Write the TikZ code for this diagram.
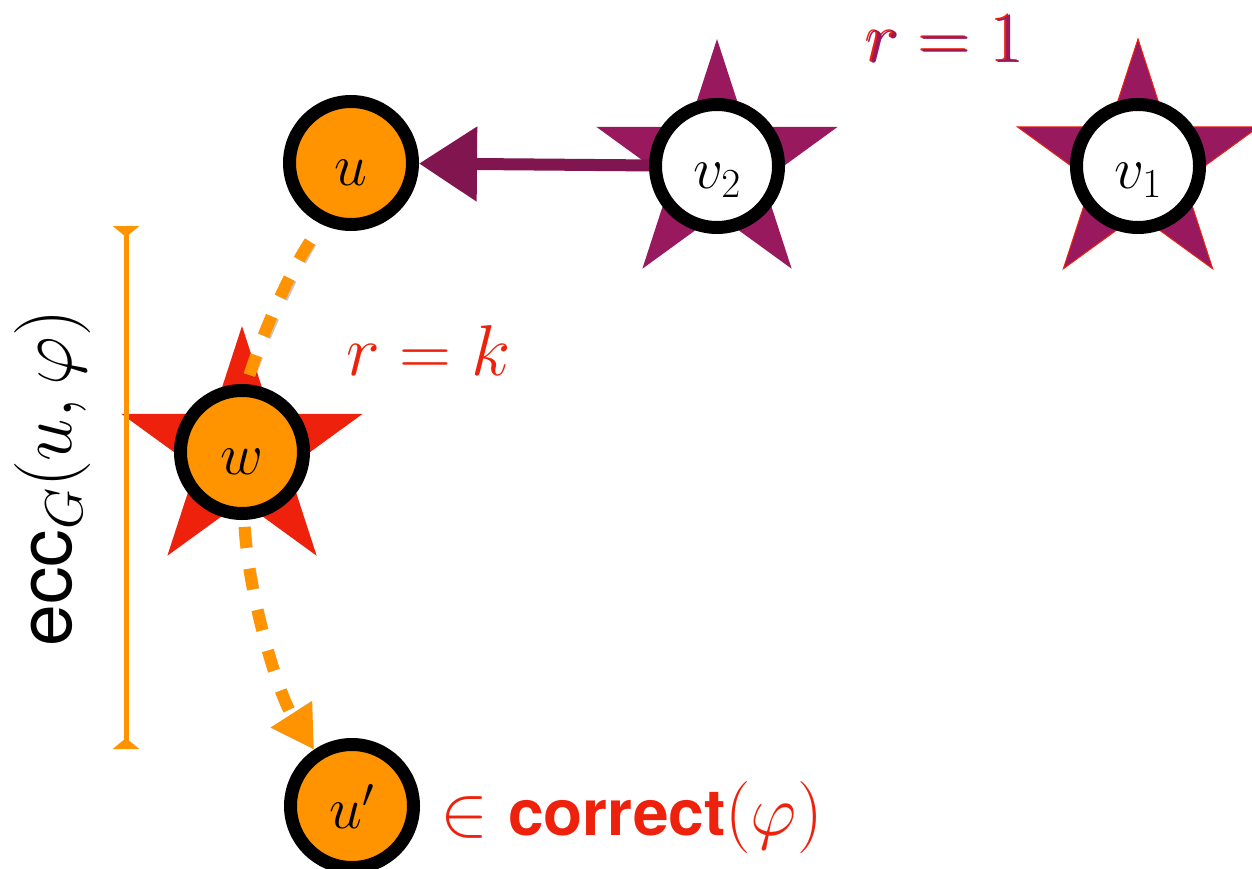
\documentclass[tikz,border=0pt]{standalone}
\usepackage{fix-cm}
\usepackage{fontspec}
\newfontfamily\heros{TeX Gyre Heros}
\usetikzlibrary{shapes.geometric,arrows.meta}
\definecolor{korange}{RGB}{255,147,0}
\definecolor{kred}{RGB}{238,34,12}
\definecolor{kplum}{RGB}{152,25,94}
\tikzset{
  vert/.style={circle, draw=black, line width=13pt, minimum size=123pt, inner sep=0pt,
    text height=45pt, text depth=0pt, font=\fontsize{59}{60}\selectfont},
  bigstar/.style={star, star points=5, star point ratio=2.618, minimum size=254pt,
    inner sep=0pt, draw=none},
  dashconn/.style={korange, line width=12pt, dash pattern=on 21pt off 21pt, line cap=butt},
  dashshadow/.style={black, opacity=0.22, line width=12pt, dash pattern=on 21pt off 21pt, line cap=butt},
  plumconn/.style={kplum!85!black, line width=12pt, -{Triangle[width=72pt,length=58pt]}},
  bigtext/.style={font=\fontsize{72}{80}\selectfont, inner sep=0pt, anchor=base west},
}
\begin{document}
\begin{tikzpicture}[x=1pt, y=-1pt]
\useasboundingbox (0,0) rectangle (1252,869);
% stars
\node[bigstar, fill=kplum] (s2) at (717,166) {};
\node[bigstar, fill=kplum, draw=kred, line width=1pt] (s1) at (1138,166) {};
\node[bigstar, fill=kred] (sw) at (242,453) {};
% bar
\coordinate (bt) at (126,226);
\coordinate (bb) at (126,749);
\draw[korange, line width=5pt, {Triangle[reversed,width=26pt,length=11pt]}-{Triangle[reversed,width=26pt,length=11pt]}] (bt) -- (bb);
% vertices
\node[vert, fill=korange] (u) at (351,163) {$u$};
\node[vert, fill=white] (v2) at (717,166) {$v_2$};
\node[vert, fill=white] (v1) at (1138,166) {$v_1$};
\node[vert, fill=korange] (w) at (242,452) {$w$};
\node[vert, fill=korange] (up) at (352,806) {$u'$};
% connectors
\draw[plumconn] (v2) -- (u);
\begin{scope}[shift={(1.5,3.5)}]
\draw[dashshadow, dash phase=21pt] (u.-115) .. controls (293,260) and (259,341) .. (w.86);
\draw[dashshadow, dash phase=35pt, -{Triangle[width=46pt,length=42pt]}] (w.-88) .. controls (246,585) and (276,690) .. (up.124);
\end{scope}
\draw[dashconn, dash phase=21pt] (u.-115) .. controls (293,260) and (259,341) .. (w.86);
\draw[dashconn, dash phase=35pt, -{Triangle[width=46pt,length=42pt]}] (w.-88) .. controls (246,585) and (276,690) .. (up.124);
% texts
\node[bigtext, text=kred] (r1s) at (864,62) {$r = 1$};
\node[bigtext, text=kplum] (r1) at (866,63) {$r = 1$};
\node[bigtext, text=kred] (rk) at (346,375) {$r = k$};
\node[rotate=90, anchor=base, inner sep=0pt, font=\fontsize{76}{80}\selectfont] (ecc) at (71,478) {$\mbox{\fontsize{75}{80}\selectfont\heros ecc}_G(u, \varphi)$};
\node[inner sep=0pt, anchor=base west, text=kred, font=\fontsize{72}{76}\selectfont] (corr) at (440,835) {$\in \mbox{\fontsize{64}{70}\selectfont\heros\bfseries correct}(\varphi)$};
\end{tikzpicture}
\end{document}
